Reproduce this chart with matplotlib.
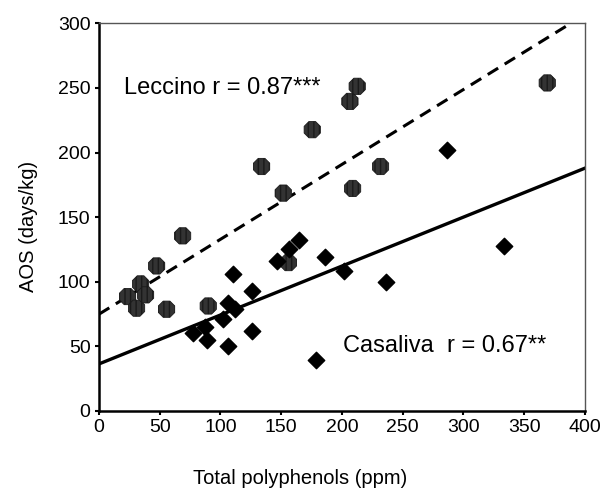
import matplotlib.pyplot as plt
import numpy as np

plt.rcParams['font.family'] = ['Liberation Sans', 'DejaVu Sans']

# Leccino (grey markers, dashed regression)
leccino_x = [23.6, 31, 34.3, 38.4, 47.5, 55.7, 68.9, 90, 133.9, 151.7, 156,
             175.6, 206.6, 212.6, 208.8, 231.8, 369]
leccino_y = [88.5, 79.5, 98.3, 89.8, 112.2, 78.7, 135.5, 81.2, 189.2, 168.6, 114.8,
             217.7, 239.6, 251.3, 172.2, 189.2, 253.9]

# Casaliva (black diamonds, solid regression)
casaliva_x = [77.6, 87.2, 88.6, 102.3, 106.4, 106.4, 110.5, 111.9, 126.2, 126.2,
              146.2, 156.4, 164.9, 178.3, 186.3, 201.6, 236.2, 286.7, 333.3]
casaliva_y = [60.5, 65.2, 54.9, 71.2, 83.3, 50.5, 106, 78.7, 61.9, 92.9,
              116.1, 125.2, 132.4, 39.4, 119, 108.4, 100.1, 201.6, 128]

# regression lines (intercept, slope, x range)
leccino_fit = (74.8, 0.58, 385)
casaliva_fit = (36.3, 0.379, 400)


def main():
    fig = plt.figure(figsize=(6.03, 4.98), dpi=100)
    ax = fig.add_axes([0.164, 0.175, 0.806, 0.778])

    xl = np.array([0, leccino_fit[2]])
    ax.plot(xl, leccino_fit[0] + leccino_fit[1] * xl, color='black', lw=2.2,
            ls=(0, (4, 2.5)), zorder=2)
    xc = np.array([0, casaliva_fit[2]])
    ax.plot(xc, casaliva_fit[0] + casaliva_fit[1] * xc, color='black', lw=2.4, zorder=2)

    ax.scatter(leccino_x, leccino_y, marker='8', s=160, color='#333333',
               edgecolors='#1a1a1a', linewidths=0.6, hatch='|||', zorder=3)
    ax.scatter(casaliva_x, casaliva_y, marker='D', s=70, color='black', zorder=4)

    ax.text(20.6, 250, 'Leccino r = 0.87***', fontsize=17, va='center')
    ax.text(200.8, 50, 'Casaliva  r = 0.67**', fontsize=17, va='center')

    ax.set_xlim(0, 400)
    ax.set_ylim(0, 300)
    ax.set_xticks(range(0, 401, 50))
    ax.set_yticks(range(0, 301, 50))
    ax.tick_params(labelsize=14, length=3, width=1.5, direction='out', pad=3)
    ax.set_xlabel('Total polyphenols (ppm)', fontsize=14.5)
    ax.set_ylabel('AOS (days/kg)', fontsize=14.5)
    ax.xaxis.set_label_coords(0.414, -0.15)
    ax.yaxis.set_label_coords(-0.125, 0.475)

    for side in ['left', 'bottom']:
        ax.spines[side].set_linewidth(1.8)
        ax.spines[side].set_color('black')
    for side in ['top', 'right']:
        ax.spines[side].set_linewidth(1.0)
        ax.spines[side].set_color('#555555')

    fig.savefig('out.png', dpi=100)


if __name__ == '__main__':
    main()
